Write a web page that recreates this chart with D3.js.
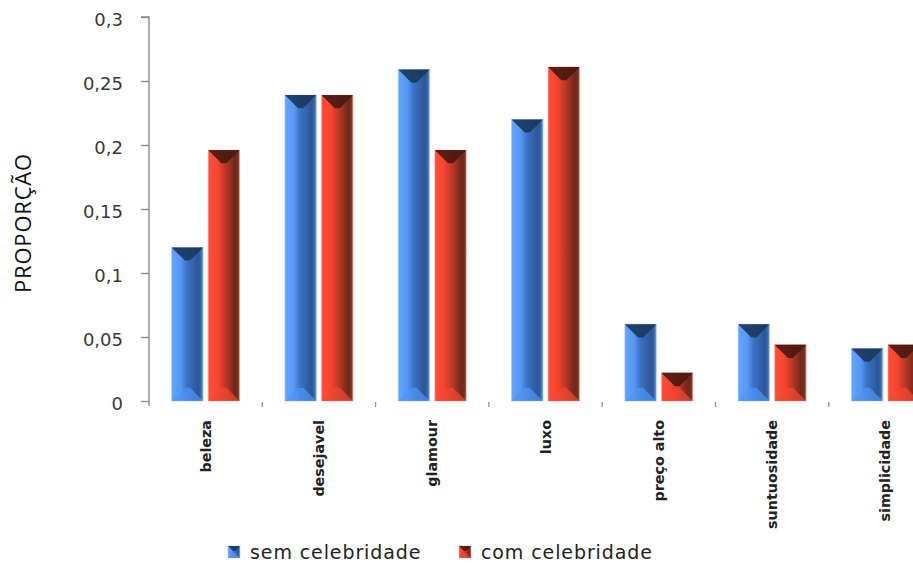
<!DOCTYPE html>
<html>
<head>
<meta charset="utf-8">
<script src="https://cdn.jsdelivr.net/npm/d3@7/dist/d3.min.js"></script>
<style>
  html, body { margin: 0; padding: 0; background: #fff; }
  svg { display: block; }
</style>
</head>
<body>
<svg id="chart" width="913" height="564"></svg>
<script>
// Proportion of each attribute, with and without a celebrity
const categories = ["beleza", "desejavel", "glamour", "luxo", "preço alto", "suntuosidade", "simplicidade"];
const seriesNames = ["sem celebridade", "com celebridade"];
const semCelebridade = [0.12, 0.239, 0.259, 0.22, 0.06, 0.06, 0.041];
const comCelebridade = [0.196, 0.239, 0.196, 0.261, 0.022, 0.044, 0.044];
const yTicks = [0, 0.05, 0.1, 0.15, 0.2, 0.25, 0.3];

const svg = d3.select("#chart");

const plotLeft = 149, plotTop = 17, plotBottom = 401, bandStep = 113.3;

const x = d3.scaleBand()
  .domain(categories)
  .range([plotLeft, plotLeft + bandStep * categories.length])
  .padding(0);

const bw = x.bandwidth();
const x1 = d3.scaleBand()
  .domain(seriesNames)
  .range([bw / 2 - 34, bw / 2 + 34])
  .paddingInner(0.14);

const y = d3.scaleLinear().domain([0, 0.3]).range([plotBottom, plotTop]);

// Gradients for the bevelled bars
const defs = svg.append("defs");
const palettes = {
  "sem celebridade": {
    face: [["0%", "#62a4ff"], ["30%", "#5597f2"], ["48%", "#3d74c6"], ["85%", "#2b5594"], ["93%", "#3566ae"], ["100%", "#64a0ea"]],
    top: "#1b3a60", bottom: "#5095f5", edge: "#a9c8f5"
  },
  "com celebridade": {
    face: [["0%", "#ff4d3a"], ["30%", "#f8452f"], ["50%", "#c83a27"], ["85%", "#6e281b"], ["94%", "#74301f"], ["100%", "#b0503c"]],
    top: "#4a1a11", bottom: "#f24833", edge: "#f5b0a6"
  }
};
seriesNames.forEach((s, i) => {
  const g = defs.append("linearGradient")
    .attr("id", "face" + i)
    .attr("x1", "0%").attr("x2", "100%").attr("y1", "0%").attr("y2", "0%");
  palettes[s].face.forEach(([o, c]) => g.append("stop").attr("offset", o).attr("stop-color", c));
});

function bevelBar(g, s, idx, x0, x1p, y0, yb) {
  const p = palettes[s];
  const w = x1p - x0, h = yb - y0;
  const d = Math.min(w * 0.42, h / 2);
  g.append("rect")
    .attr("x", x0).attr("y", y0).attr("width", w).attr("height", h)
    .attr("fill", `url(#face${idx})`)
    .attr("stroke", p.edge).attr("stroke-width", 0.8).attr("stroke-opacity", 0.7);
  // top bevel
  g.append("polygon")
    .attr("points", [[x0, y0], [x1p, y0], [x1p - d, y0 + d], [x0 + d, y0 + d]].map(q => q.join(",")).join(" "))
    .attr("fill", p.top).attr("opacity", 0.92);
  // bottom bevel
  g.append("polygon")
    .attr("points", [[x0, yb], [x1p, yb], [x1p - d, yb - d], [x0 + d, yb - d]].map(q => q.join(",")).join(" "))
    .attr("fill", p.bottom).attr("opacity", 0.7);
}

// Bars
const seriesValues = [semCelebridade, comCelebridade];
const barsG = svg.append("g");
categories.forEach((c, ci) => {
  seriesNames.forEach((s, si) => {
    const v = seriesValues[si][ci];
    const bx = x(c) + x1(s);
    bevelBar(barsG, s, si, bx, bx + x1.bandwidth(), y(v), y(0));
  });
});

// Y axis
const yAxis = d3.axisLeft(y)
  .tickValues(yTicks)
  .tickSize(8)
  .tickPadding(18)
  .tickFormat(d => String(d).replace(".", ","));
const yg = svg.append("g")
  .attr("transform", `translate(${plotLeft},0)`)
  .call(yAxis);
yg.select(".domain").attr("stroke", "#8c8c8c").attr("stroke-width", 1.4)
  .attr("d", `M-8,${plotTop}H0V${plotBottom + 5}`);
yg.selectAll(".tick line").attr("stroke", "#8c8c8c").attr("stroke-width", 1.4);
yg.selectAll(".tick text")
  .attr("font-family", "DejaVu Sans")
  .attr("font-size", 18)
  .attr("fill", "#3a3a3a")
  .attr("dy", "0.45em");

// Category separator ticks along the base
const sepG = svg.append("g");
categories.slice(1).forEach(c => {
  sepG.append("line")
    .attr("x1", x(c)).attr("x2", x(c))
    .attr("y1", plotBottom + 1).attr("y2", plotBottom + 6)
    .attr("stroke", "#999").attr("stroke-width", 1.4);
});

// Category labels, rotated
const labG = svg.append("g");
categories.forEach(c => {
  const cx = x(c) + bw / 2 + 5;
  labG.append("text")
    .attr("transform", `translate(${cx},420) rotate(-90)`)
    .attr("text-anchor", "end")
    .attr("font-family", "DejaVu Sans")
    .attr("font-weight", "bold")
    .attr("font-size", 14.3)
    .attr("fill", "#222")
    .text(c);
});

// Y axis title
svg.append("text")
  .attr("transform", "translate(31,223) rotate(-90)")
  .attr("text-anchor", "middle")
  .attr("font-family", "Open Sans")
  .attr("font-size", 22)
  .attr("letter-spacing", 0.8)
  .attr("fill", "#111")
  .text("PROPORÇÃO");

// Legend
const legendItems = [
  { name: seriesNames[0], ix: 228, tx: 250 },
  { name: seriesNames[1], ix: 459, tx: 481 }
];
const legG = svg.append("g");
legendItems.forEach((it, i) => {
  bevelBar(legG, it.name, i, it.ix, it.ix + 12, 546, 558);
  legG.append("text")
    .attr("x", it.tx).attr("y", 559)
    .attr("font-family", "DejaVu Sans")
    .attr("font-size", 19)
    .attr("letter-spacing", 0.9)
    .attr("fill", "#222")
    .text(it.name);
});
</script>
</body>
</html>
